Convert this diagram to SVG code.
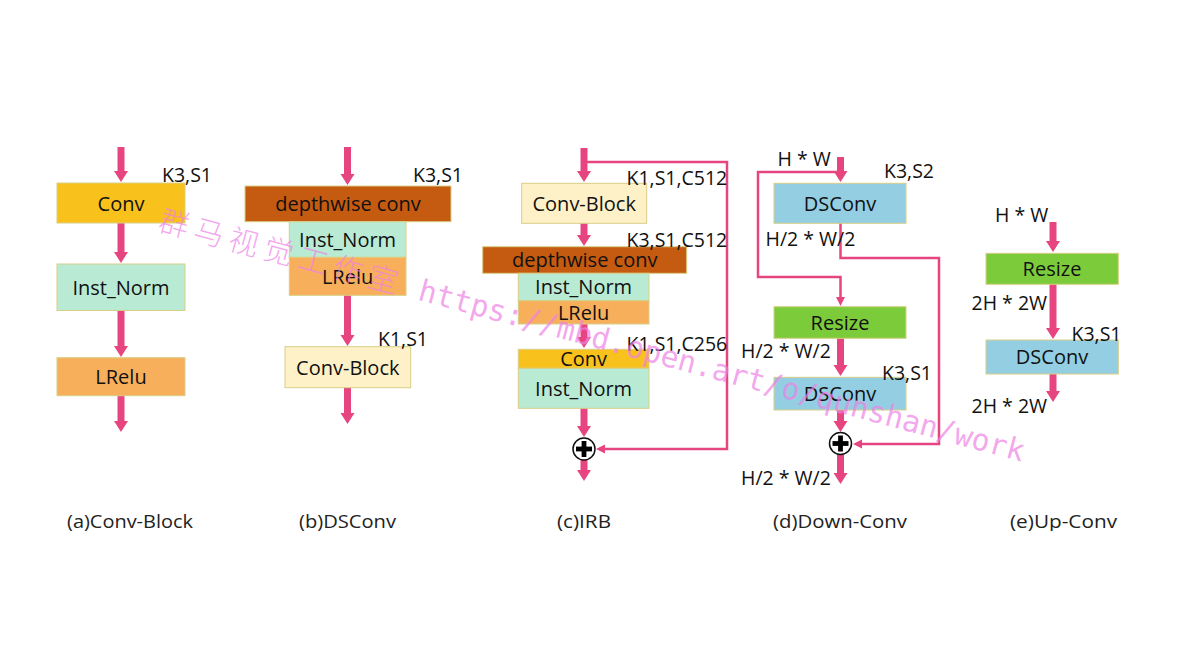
<svg xmlns="http://www.w3.org/2000/svg" width="1178" height="666" viewBox="0 0 1178 666">
<style>
.box{stroke:#D8CF86;stroke-width:1}
.lbl{font-family:"Open Sans","Liberation Sans",sans-serif;font-size:20px;fill:#111;text-anchor:middle}
.ann{font-family:"Open Sans","Liberation Sans",sans-serif;font-size:19.5px;fill:#111}
.cap{font-family:"Open Sans","Liberation Sans",sans-serif;font-size:19px;fill:#222}
.fat{stroke:#E6457F;stroke-width:7;fill:none}
.thin{stroke:#E6457F;stroke-width:2.5;fill:none;stroke-linejoin:miter}
.conv{fill:#F8C11C}.inorm{fill:#B9EBD4}.lrelu{fill:#F8AF5C}.dw{fill:#C55A11}.cb{fill:#FEF1C8}.ds{fill:#93CEE2}.rs{fill:#7CCB3B}
.wm{fill:#EE80E4;fill-opacity:0.7}
</style>
<defs>
<marker id="fh" markerUnits="userSpaceOnUse" markerWidth="14" markerHeight="16" viewBox="0 -8 12 16" refX="1" refY="0" orient="auto"><path d="M0,-7 L11,0 L0,7 Z" fill="#E6457F"/></marker>
<marker id="th" markerUnits="userSpaceOnUse" markerWidth="10" markerHeight="10" viewBox="0 -5 10 10" refX="1" refY="0" orient="auto"><path d="M0,-4.5 L9,0 L0,4.5 Z" fill="#E6457F"/></marker>
<clipPath id="capclip"><rect x="0" y="490" width="1178" height="41"/></clipPath>
<g id="plus-sym"><circle cx="0" cy="0" r="11" fill="#fff" stroke="#111" stroke-width="1.5"/><rect x="-8" y="-2.4" width="16" height="4.8" fill="#000"/><rect x="-2.4" y="-8" width="4.8" height="16" fill="#000"/></g>
</defs>
<rect width="1178" height="666" fill="#fff"/>

<g id="connectors">
<!-- (a) -->
<line class="fat" x1="121" y1="147" x2="121" y2="172" marker-end="url(#fh)"/>
<line class="fat" x1="121" y1="223" x2="121" y2="253" marker-end="url(#fh)"/>
<line class="fat" x1="121" y1="310" x2="121" y2="347" marker-end="url(#fh)"/>
<line class="fat" x1="121" y1="395" x2="121" y2="422" marker-end="url(#fh)"/>
<!-- (b) -->
<line class="fat" x1="347.5" y1="147" x2="347.5" y2="175" marker-end="url(#fh)"/>
<line class="fat" x1="347.5" y1="295" x2="347.5" y2="336" marker-end="url(#fh)"/>
<line class="fat" x1="347.5" y1="387" x2="347.5" y2="414" marker-end="url(#fh)"/>
<!-- (c) -->
<polyline class="thin" points="584,162 727,162 727,449 604,449" marker-end="url(#th)"/>
<line class="fat" x1="584" y1="148" x2="584" y2="172" marker-end="url(#fh)"/>
<line class="fat" x1="584" y1="223" x2="584" y2="236" marker-end="url(#fh)"/>
<line class="fat" x1="584" y1="323" x2="584" y2="338" marker-end="url(#fh)"/>
<line class="fat" x1="584" y1="408" x2="584" y2="427" marker-end="url(#fh)"/>
<line class="fat" x1="584" y1="459" x2="584" y2="471" marker-end="url(#fh)"/>
<!-- (d) -->
<polyline class="thin" points="840.5,172 758,172 758,277 840.5,277 840.5,298" marker-end="url(#th)"/>
<polyline class="thin" points="840.5,223 840.5,258 939,258 939,444 861,444" marker-end="url(#th)"/>
<line class="fat" x1="840.5" y1="157" x2="840.5" y2="172" marker-end="url(#fh)"/>
<line class="fat" x1="840.5" y1="338" x2="840.5" y2="366" marker-end="url(#fh)"/>
<line class="fat" x1="840.5" y1="410" x2="840.5" y2="422" marker-end="url(#fh)"/>
<line class="fat" x1="840.5" y1="454" x2="840.5" y2="474" marker-end="url(#fh)"/>
<!-- (e) -->
<line class="fat" x1="1053" y1="222" x2="1053" y2="242" marker-end="url(#fh)"/>
<line class="fat" x1="1053" y1="284" x2="1053" y2="329" marker-end="url(#fh)"/>
<line class="fat" x1="1053" y1="374" x2="1053" y2="392" marker-end="url(#fh)"/>
</g>

<g id="panel-a">
<g id="a-conv"><rect class="box conv" x="57" y="183" width="128" height="40"/><text class="lbl" x="121" y="210.5">Conv</text></g>
<g id="a-norm"><rect class="box inorm" x="57" y="264" width="128" height="46.5"/><text class="lbl" x="121" y="294.5">Inst_Norm</text></g>
<g id="a-lrelu"><rect class="box lrelu" x="57" y="357.7" width="128" height="38"/><text class="lbl" x="121" y="384">LRelu</text></g>
<text class="ann" x="162" y="182">K3,S1</text>
</g>

<g id="panel-b">
<g id="b-dw"><rect class="box dw" x="245" y="186" width="206" height="35.7"/><text class="lbl" x="348" y="211">depthwise conv</text></g>
<g id="b-norm"><rect class="box inorm" x="289.3" y="221.7" width="116.7" height="35.6"/><text class="lbl" x="347.6" y="246.5">Inst_Norm</text></g>
<g id="b-lrelu"><rect class="box lrelu" x="289.3" y="257.3" width="116.7" height="38"/><text class="lbl" x="347.6" y="283.5">LRelu</text></g>
<g id="b-cb"><rect class="box cb" x="285" y="346.7" width="125.7" height="41"/><text class="lbl" x="347.8" y="374.5">Conv-Block</text></g>
<text class="ann" x="413" y="182">K3,S1</text>
<text class="ann" x="378" y="346">K1,S1</text>
</g>

<g id="panel-c">
<g id="c-cb"><rect class="box cb" x="521.7" y="183.3" width="125" height="40"/><text class="lbl" x="584.2" y="210.5">Conv-Block</text></g>
<g id="c-dw"><rect class="box dw" x="482.7" y="246.7" width="204" height="26.6"/><text class="lbl" x="584.7" y="267">depthwise conv</text></g>
<g id="c-norm1"><rect class="box inorm" x="518.3" y="273.3" width="130.7" height="27.4"/><text class="lbl" x="583.6" y="294">Inst_Norm</text></g>
<g id="c-lrelu"><rect class="box lrelu" x="518.3" y="300.7" width="130.7" height="23.3"/><text class="lbl" x="583.6" y="319.5">LRelu</text></g>
<g id="c-conv"><rect class="box conv" x="518.3" y="349.3" width="130.7" height="19"/><text class="lbl" x="583.6" y="366">Conv</text></g>
<g id="c-norm2"><rect class="box inorm" x="518.3" y="368.3" width="130.7" height="40"/><text class="lbl" x="583.6" y="395.5">Inst_Norm</text></g>
<g id="c-add"><use href="#plus-sym" x="584" y="449"/></g>
<text class="ann" x="626.5" y="185">K1,S1,C512</text>
<text class="ann" x="626.5" y="247">K3,S1,C512</text>
<text class="ann" x="626.5" y="350.5">K1,S1,C256</text>
</g>

<g id="panel-d">
<g id="d-ds1"><rect class="box ds" x="774" y="183.3" width="132" height="40"/><text class="lbl" x="840" y="210.5">DSConv</text></g>
<g id="d-rs"><rect class="box rs" x="774" y="306.7" width="132" height="31.6"/><text class="lbl" x="840" y="329.5">Resize</text></g>
<g id="d-ds2"><rect class="box ds" x="774" y="377.3" width="132" height="32.7"/><text class="lbl" x="840" y="401">DSConv</text></g>
<g id="d-add"><use href="#plus-sym" x="840.5" y="443.5"/></g>
<text class="ann" x="777.5" y="166">H * W</text>
<text class="ann" x="884" y="178">K3,S2</text>
<text class="ann" x="765.5" y="246">H/2 * W/2</text>
<text class="ann" x="741" y="358">H/2 * W/2</text>
<text class="ann" x="882" y="379.5">K3,S1</text>
<text class="ann" x="741" y="485">H/2 * W/2</text>
</g>

<g id="panel-e">
<g id="e-rs"><rect class="box rs" x="986" y="253.3" width="132.3" height="31"/><text class="lbl" x="1052" y="276">Resize</text></g>
<g id="e-ds"><rect class="box ds" x="986" y="340" width="132.3" height="34"/><text class="lbl" x="1052" y="364">DSConv</text></g>
<text class="ann" x="995" y="222">H * W</text>
<text class="ann" x="971.5" y="310">2H * 2W</text>
<text class="ann" x="1071.5" y="341">K3,S1</text>
<text class="ann" x="971.5" y="413">2H * 2W</text>
</g>

<g id="captions" clip-path="url(#capclip)">
<text class="cap" x="67" y="528" textLength="126" lengthAdjust="spacingAndGlyphs">(a)Conv-Block</text>
<text class="cap" x="299" y="528" textLength="97" lengthAdjust="spacingAndGlyphs">(b)DSConv</text>
<text class="cap" x="557" y="528" textLength="54" lengthAdjust="spacingAndGlyphs">(c)IRB</text>
<text class="cap" x="773" y="528" textLength="134" lengthAdjust="spacingAndGlyphs">(d)Down-Conv</text>
<text class="cap" x="1010" y="528" textLength="107" lengthAdjust="spacingAndGlyphs">(e)Up-Conv</text>
</g>

<g id="watermark" transform="translate(157,230) rotate(15)">
<text class="wm" x="0" y="0" font-family="'Noto Sans CJK SC',sans-serif" font-size="30" font-weight="300" letter-spacing="6">群马视觉工作室</text>
<text class="wm" x="269" y="0" font-family="'DejaVu Sans Mono','Liberation Mono',monospace" font-size="30" textLength="626" lengthAdjust="spacingAndGlyphs">https://mbd.open.art/o/qunshan/work</text>
</g>
</svg>
